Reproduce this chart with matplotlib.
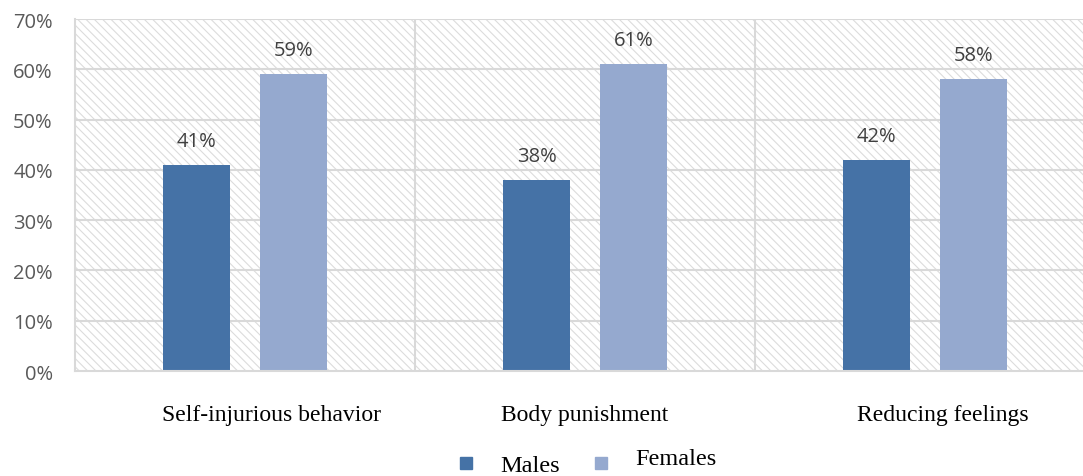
import matplotlib.pyplot as plt
import matplotlib.transforms as mtransforms
import numpy as np
from matplotlib.patches import Rectangle
from matplotlib.lines import Line2D

categories = ['Self-injurious behavior', 'Body punishment', 'Reducing feelings']
males = [41, 38, 42]
females = [59, 61, 58]
yticks = [0, 10, 20, 30, 40, 50, 60, 70]

male_color = '#4572a6'
female_color = '#95a9cf'
grid_color = '#d9d9d9'

plt.rcParams['hatch.linewidth'] = 0.8

fig = plt.figure(figsize=(10.83, 4.77), dpi=100)
# right edge of the plot area runs off the picture like in the original
ax = fig.add_axes([75 / 1083, 1 - 372 / 477, 1 - 75 / 1083, (372 - 20) / 477])

x = np.arange(len(categories))
width = 0.197
offset = 0.142

# hatched background
bg = Rectangle((-0.5, 0), 3, 70, facecolor='white', edgecolor='#dcdcdc',
               hatch='\\\\\\\\', linewidth=0, zorder=0)
ax.add_patch(bg)

for y in yticks[1:]:
    ax.axhline(y, color=grid_color, linewidth=1.5, zorder=1)
for b in [0.5, 1.5]:
    ax.axvline(b, color=grid_color, linewidth=1.5, zorder=1)

bm = ax.bar(x - offset, males, width, color=male_color, zorder=2)
bf = ax.bar(x + offset, females, width, color=female_color, zorder=2)

for bars, vals in [(bm, males), (bf, females)]:
    for r, v in zip(bars, vals):
        ax.annotate(f'{v}%', (r.get_x() + r.get_width() / 2, v),
                    xytext=(0, 10), textcoords='offset points',
                    ha='center', va='bottom', fontsize=14.5,
                    family='Open Sans', color='#404040')

ax.set_xlim(-0.5, 2.5 - 12 / 340)
ax.set_ylim(0, 70)
ax.set_yticks(yticks)
ax.set_yticklabels([f'{t}%' for t in yticks], family='Open Sans',
                   fontsize=14.5, color='#595959')
ax.set_xticks(x)
ax.set_xticklabels(categories, family='Liberation Serif', fontsize=17,
                   color='black')
ax.tick_params(axis='both', length=0)
ax.tick_params(axis='x', pad=24)
ax.tick_params(axis='y', pad=16)

# the category labels sit a little right of centre in the original
for lab, dx in zip(ax.get_xticklabels(), [27, 0, 18]):
    lab.set_transform(lab.get_transform() +
                      mtransforms.ScaledTranslation(dx / 100, 0, fig.dpi_scale_trans))

for s in ['top', 'right']:
    ax.spines[s].set_visible(False)
ax.spines['left'].set_color(grid_color)
ax.spines['left'].set_linewidth(1.5)
ax.spines['bottom'].set_color(grid_color)
ax.spines['bottom'].set_linewidth(1.5)

handles = [Line2D([], [], marker='s', linestyle='none', markersize=8,
                  color=male_color),
           Line2D([], [], marker='s', linestyle='none', markersize=8,
                  color=female_color)]
leg = fig.legend(handles, ['Males', 'Females'], loc='center',
                 bbox_to_anchor=(585 / 1083, 1 - 466 / 477), ncol=2, frameon=False,
                 prop={'family': 'Liberation Serif', 'size': 17.5},
                 handlelength=1, handletextpad=0.9, columnspacing=1.2)
# "Females" is set slightly higher than "Males" in the original
ftxt = leg.get_texts()[1]
ftxt.set_y(7)

fig.savefig('out.png', dpi=100)
